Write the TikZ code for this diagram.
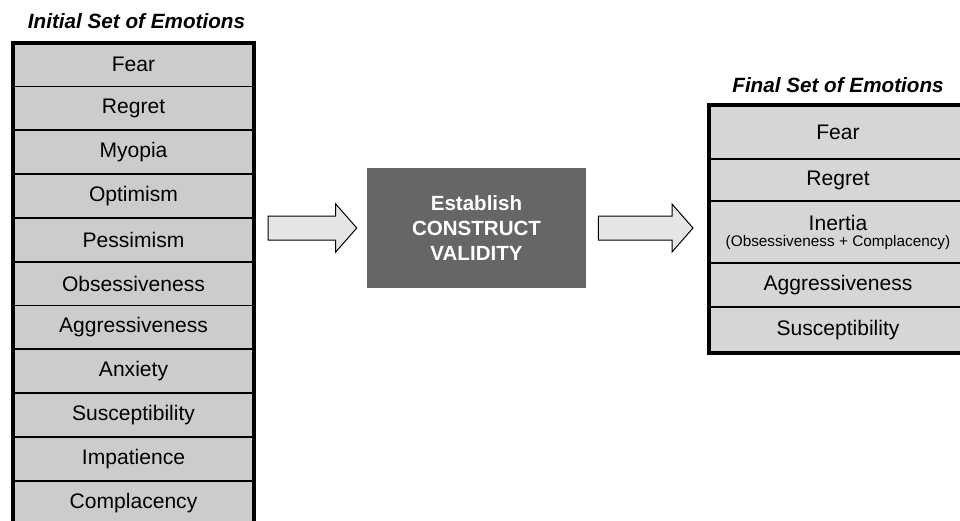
\documentclass[tikz,border=0pt]{standalone}
\usepackage{fontspec}
\setmainfont{Liberation Sans}
\definecolor{cellgray}{RGB}{204, 204, 204}
\definecolor{celllight}{RGB}{214, 214, 214}
\definecolor{boxgray}{RGB}{102, 102, 102}
\definecolor{arrowgray}{RGB}{230, 230, 230}
\usetikzlibrary{
    positioning,
    calc
}
\tikzset{
    cell/.style={draw, line width=1.3pt, fill=cellgray, inner sep=0pt, outer sep=0pt,
        align=center, font=\fontsize{15.8}{19}\selectfont},
    frame/.style={draw, line width=3pt},
    settitle/.style={font=\fontsize{15.5}{18}\selectfont\bfseries\itshape},
    blockarrow/.style={draw, line width=0.75pt, fill=arrowgray, line join=miter}
}
% block arrow from tail coordinate to tip coordinate
\newcommand{\blockarrow}[2]{%
    \draw[blockarrow] ($(#1)+(0,-12)$) -- ($(#2)+(-21,-12)$) -- ($(#2)+(-21,-24)$)
        -- (#2) -- ($(#2)+(-21,24)$) -- ($(#2)+(-21,12)$) -- ($(#1)+(0,12)$) -- cycle;}

\begin{document}
\begin{tikzpicture}[x=0.75pt, y=-0.75pt]
    \useasboundingbox (0,0) rectangle (960,521);

    % Initial set
    \node[settitle] (ltitle) at (136.5,21) {Initial Set of Emotions};
    \foreach \name [count=\i] in {Fear, Regret, Myopia, Optimism, Pessimism, Obsessiveness,
        Aggressiveness, Anxiety, Susceptibility, Impatience, Complacency}
        \node[cell, minimum width=180.75pt, minimum height=32.85pt] (l\i)
            at (133.5,{42.7+43.8*(\i-0.5)}) {\name};
    \draw[frame] (l1.north west) rectangle (l11.south east);

    % Middle step
    \node[fill=boxgray, text=white, minimum width=164.25pt, minimum height=90pt,
        align=center, font=\fontsize{15.4}{18.75}\selectfont\bfseries] (mid)
        at (476.5,228) {Establish\\CONSTRUCT\\VALIDITY};

    % Final set
    \node[settitle] (rtitle) at (838,85) {Final Set of Emotions};
    \foreach \rowtop/\rowh/\name [count=\i] in {105/54/Fear, 159/42/Regret,
        201/62/{Inertia\\[-7pt]{\fontsize{11.5}{13}\selectfont(Obsessiveness + Complacency)}},
        263/44/Aggressiveness, 307/46/Susceptibility}
        \node[cell, fill=celllight, minimum width=193.5pt, minimum height=\rowh*0.75pt] (r\i)
            at (838,{\rowtop+\rowh/2}) {\name};
    \draw[frame] (r1.north west) rectangle (r5.south east);

    % Arrows
    \coordinate (a1 tail) at ($(l1.east |- mid.west)+(14,0)$);
    \coordinate (a1 tip) at ($(mid.west)+(-10,0)$);
    \coordinate (a2 tail) at ($(mid.east)+(12,0)$);
    \coordinate (a2 tip) at ($(r1.west |- mid.east)+(-16,0)$);
    \blockarrow{a1 tail}{a1 tip}
    \blockarrow{a2 tail}{a2 tip}
\end{tikzpicture}
\end{document}
